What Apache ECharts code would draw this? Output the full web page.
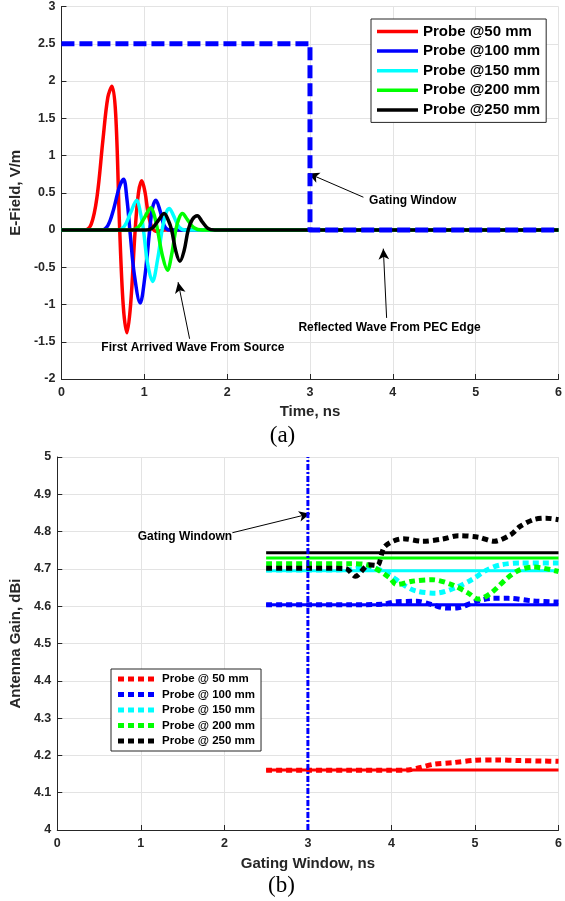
<!DOCTYPE html>
<html><head><meta charset="utf-8">
<script src="https://cdn.jsdelivr.net/npm/echarts@6/dist/echarts.min.js"></script>
<style>html,body{margin:0;padding:0;background:#fff}#c{width:565px;height:901px}</style>
</head><body><div id="c"></div>
<script>
// ---------- (a) time-domain E-field at the probes ----------
const probeLabelsA = ['Probe @50 mm','Probe @100 mm','Probe @150 mm','Probe @200 mm','Probe @250 mm'];
const timeTicks = [0,1,2,3,4,5,6];
const efieldTicks = [-2,-1.5,-1,-0.5,0,0.5,1,1.5,2,2.5,3];
const efield50 = [[0,0],[0.28,0],[0.36,0.08],[0.43,0.45],[0.50,1.20],[0.56,1.78],[0.61,1.93],[0.655,1.55],[0.70,0.1],[0.745,-1.0],[0.79,-1.38],[0.835,-1.0],[0.89,0],[0.93,0.5],[0.97,0.66],[1.01,0.5],[1.05,0.2],[1.10,0.02],[1.16,-0.02],[1.25,0],[6,0]];
const efield100 = [[0,0],[0.48,0],[0.56,0.06],[0.63,0.28],[0.70,0.58],[0.75,0.68],[0.79,0.42],[0.83,-0.05],[0.88,-0.6],[0.95,-0.98],[1.01,-0.6],[1.065,0],[1.10,0.3],[1.14,0.40],[1.19,0.26],[1.24,0.06],[1.30,0],[6,0]];
const efield150 = [[0,0],[0.68,0],[0.76,0.05],[0.83,0.22],[0.91,0.40],[0.95,0.25],[0.99,0],[1.04,-0.45],[1.10,-0.69],[1.16,-0.4],[1.215,0],[1.26,0.22],[1.30,0.29],[1.35,0.2],[1.42,0.04],[1.50,0],[6,0]];
const efield200 = [[0,0],[0.85,0],[0.93,0.04],[1.00,0.16],[1.08,0.30],[1.12,0.2],[1.16,0],[1.22,-0.35],[1.28,-0.54],[1.33,-0.33],[1.38,0],[1.42,0.16],[1.46,0.22],[1.52,0.14],[1.60,0.03],[1.70,0],[6,0]];
const efield250 = [[0,0],[1.02,0],[1.10,0.03],[1.17,0.13],[1.24,0.22],[1.29,0.13],[1.33,0],[1.38,-0.28],[1.43,-0.42],[1.48,-0.28],[1.53,0],[1.58,0.14],[1.64,0.19],[1.70,0.11],[1.77,0.02],[1.85,0],[6,0]];
const gatingWindowA = [[0,2.5],[3,2.5],[3,0],[6,0]];

// ---------- (b) antenna gain vs gating window ----------
const probeLabelsB = ['Probe @ 50 mm','Probe @ 100 mm','Probe @ 150 mm','Probe @ 200 mm','Probe @ 250 mm'];
const gateTicks = [0,1,2,3,4,5,6];
const gainTicks = [4,4.1,4.2,4.3,4.4,4.5,4.6,4.7,4.8,4.9,5];
const gainRef50 = [[2.5,4.161],[6,4.161]];
const gainRef100 = [[2.5,4.604],[6,4.604]];
const gainRef150 = [[2.5,4.695],[6,4.695]];
const gainRef200 = [[2.5,4.729],[6,4.729]];
const gainRef250 = [[2.5,4.743],[6,4.743]];
const gain50 = [[2.5,4.16],[3,4.16],[3.5,4.16],[4.0,4.16],[4.2,4.161],[4.35,4.168],[4.5,4.176],[4.75,4.181],[5.0,4.187],[5.25,4.188],[5.55,4.186],[5.8,4.185],[6,4.184]];
const gain100 = [[2.5,4.604],[3.0,4.604],[3.5,4.604],[3.9,4.605],[4.05,4.612],[4.3,4.613],[4.5,4.603],[4.65,4.595],[4.8,4.596],[5.0,4.612],[5.2,4.621],[5.4,4.621],[5.7,4.614],[6,4.611]];
const gain150 = [[2.5,4.697],[3.0,4.697],[3.5,4.698],[3.71,4.706],[3.94,4.689],[4.14,4.658],[4.29,4.641],[4.53,4.635],[4.76,4.649],[4.96,4.671],[5.15,4.698],[5.31,4.711],[5.55,4.716],[6,4.716]];
const gain200 = [[2.5,4.714],[3.0,4.714],[3.5,4.714],[3.71,4.711],[3.98,4.676],[4.06,4.658],[4.25,4.667],[4.49,4.671],[4.72,4.658],[4.92,4.635],[5.04,4.619],[5.19,4.635],[5.39,4.676],[5.54,4.698],[5.70,4.705],[6,4.693]];
const gain250 = [[2.5,4.702],[3.0,4.702],[3.45,4.701],[3.57,4.68],[3.73,4.711],[3.83,4.709],[3.92,4.760],[4.14,4.781],[4.37,4.774],[4.61,4.780],[4.80,4.789],[5.04,4.785],[5.23,4.774],[5.43,4.792],[5.54,4.814],[5.70,4.832],[5.85,4.836],[6,4.832]];
const gatingWindowB = [[3,4],[3,5]];

// annotations
const annotationsA = [
  {text:'Gating Window', at:[4.24,0.40], from:[3.645,0.44], to:[2.98,0.76]},
  {text:'Reflected Wave From PEC Edge', at:[3.96,-1.31], from:[3.925,-1.18], to:[3.885,-0.25]},
  {text:'First Arrived Wave From Source', at:[1.586,-1.586], from:[1.547,-1.46], to:[1.408,-0.70]}
];
const annotationsB = [
  {text:'Gating Windown', at:[1.528,4.786], from:[2.096,4.797], to:[3.025,4.848]}
];

const probeColors = ['#ff0000','#0000ff','#00ffff','#00ff00','#000000'];
const FF = '"Liberation Sans", Arial, sans-serif';
const efieldSeries = [efield50, efield100, efield150, efield200, efield250];
const gainRefSeries = [gainRef50, gainRef100, gainRef150, gainRef200, gainRef250];
const gainSeries = [gain50, gain100, gain150, gain200, gain250];

function axisCommon(ticks, gridIndex, name, gap, isY) {
  return {
    type:'value', gridIndex, min:ticks[0], max:ticks[ticks.length-1],
    interval: +(ticks[1]-ticks[0]).toFixed(3),
    name, nameLocation:'middle', nameGap:gap, nameRotate: isY ? 90 : 0,
    nameTextStyle:{fontFamily:FF, fontWeight:'bold', fontSize:15, color:'#262626'},
    axisLine:{show:true, onZero:false, lineStyle:{color:'#262626', width:1}},
    axisTick:{show:true, inside:true, length:5, lineStyle:{color:'#262626'}},
    axisLabel:{margin: isY ? 6 : 7, fontFamily:FF, fontWeight:'bold', fontSize:12.5, color:'#262626',
      formatter: v => String(Math.round(v*10)/10)},
    splitLine:{show:true, lineStyle:{color:'#e3e3e3', width:1}}
  };
}

const series = [];
efieldSeries.forEach((d,i) => series.push({
  type:'line', name:probeLabelsA[i], xAxisIndex:0, yAxisIndex:0, data:d,
  smooth:0.35, symbol:'none', lineStyle:{color:probeColors[i], width:3.5}, itemStyle:{color:probeColors[i]}
}));
series.push({
  type:'line', name:'gatingA', xAxisIndex:0, yAxisIndex:0, data:gatingWindowA, symbol:'none',
  lineStyle:{color:'#0000ff', width:5, type:[13,5], join:'round'}, z:5,
  markLine:{silent:true, symbol:['none','arrow'], symbolSize:[8,11], animation:false,
    lineStyle:{color:'#000', width:1, type:'solid'}, label:{show:false},
    data: annotationsA.map(a => [{coord:a.from},{coord:a.to}])},
  markPoint:{silent:true, symbol:'circle', symbolSize:1, itemStyle:{color:'rgba(0,0,0,0)'},
    label:{show:true, position:'inside', color:'#000', fontWeight:'bold', fontSize:12, fontFamily:FF, formatter:p=>p.name},
    data: annotationsA.map(a => ({name:a.text, coord:a.at}))}
});
gainRefSeries.forEach((d,i) => series.push({
  type:'line', name:'ref'+i, xAxisIndex:1, yAxisIndex:1, data:d, symbol:'none',
  lineStyle:{color:probeColors[i], width:3}, itemStyle:{color:probeColors[i]}
}));
gainSeries.forEach((d,i) => series.push({
  type:'line', name:probeLabelsB[i], xAxisIndex:1, yAxisIndex:1, data:d, symbol:'none', smooth:0.3,
  lineStyle:{color:probeColors[i], width:5, type:[6,4], cap:'butt'}, itemStyle:{color:probeColors[i]}
}));
series.push({
  type:'line', name:'gatingB', xAxisIndex:1, yAxisIndex:1, data:gatingWindowB, symbol:'none', z:5,
  lineStyle:{color:'#0000ff', width:3, type:[6,2,2,2]},
  markLine:{silent:true, symbol:['none','arrow'], symbolSize:[8,11], animation:false,
    lineStyle:{color:'#000', width:1, type:'solid'}, label:{show:false},
    data: annotationsB.map(a => [{coord:a.from},{coord:a.to}])},
  markPoint:{silent:true, symbol:'circle', symbolSize:1, itemStyle:{color:'rgba(0,0,0,0)'},
    label:{show:true, position:'inside', color:'#000', fontWeight:'bold', fontSize:12, fontFamily:FF, formatter:p=>p.name},
    data: annotationsB.map(a => ({name:a.text, coord:a.at}))}
});

const chart = echarts.init(document.getElementById('c'), null, {renderer:'canvas'});
chart.setOption({
  animation:false,
  backgroundColor:'#fff',
  grid:[
    {left:55, top:6, width:507, height:373},
    {left:50, top:457, width:512, height:373}
  ],
  xAxis:[axisCommon(timeTicks,0,'Time, ns',25,false), axisCommon(gateTicks,1,'Gating Window, ns',26,false)],
  yAxis:[axisCommon(efieldTicks,0,'E-Field, V/m',32,true), axisCommon(gainTicks,1,'Antenna Gain, dBi',27,true)],
  legend:[
    {data:probeLabelsA, orient:'vertical', left:371, top:19, icon:'rect', itemWidth:41, itemHeight:3.5, itemGap:4.6,
     padding:[5,6,5,6], borderColor:'#262626', borderWidth:1, backgroundColor:'#fff', selectedMode:false,
     textStyle:{fontFamily:FF, fontWeight:'bold', fontSize:15, color:'#000'}},
    {data:probeLabelsB, orient:'vertical', left:111, top:669,
     icon:'path://M0 0h6v5H0zM10 0h6v5h-6zM20 0h6v5h-6zM30 0h6v5h-6z', itemWidth:36, itemHeight:5, itemGap:3.5,
     padding:[4,6,4,7], borderColor:'#262626', borderWidth:1, backgroundColor:'#fff', selectedMode:false,
     textStyle:{fontFamily:FF, fontWeight:'bold', fontSize:11.5, color:'#000', padding:[0,0,0,3]}}
  ],
  graphic:[
    {type:'text', left:'center', x:0, top:424, style:{text:'(a)', font:'23px "Liberation Serif", "Times New Roman", serif', fill:'#000'}},
    {type:'text', top:874, style:{text:'(b)', font:'23px "Liberation Serif", "Times New Roman", serif', fill:'#000'}, left:268}
  ],
  series
});
</script></body></html>
